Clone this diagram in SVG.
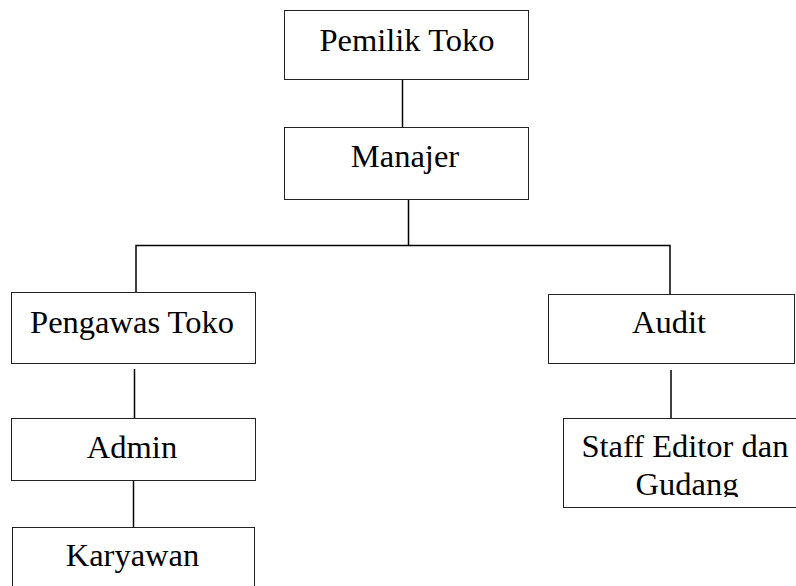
<svg xmlns="http://www.w3.org/2000/svg" width="796" height="586" viewBox="0 0 796 586">
<style>
.box{fill:#fff;stroke:#222;stroke-width:1}
.t{font-family:"Liberation Serif","Times New Roman",serif;font-size:32.5px;fill:#000;text-anchor:middle}
.c{stroke:#000;stroke-width:1.5;fill:none}
</style>
<defs>
<clipPath id="clipStaff"><rect x="563" y="418" width="240" height="79"/></clipPath>
</defs>
<rect width="796" height="586" fill="#fff"/>
<g id="connectors">
<line class="c" x1="402.5" y1="79" x2="402.5" y2="127"/>
<line class="c" x1="408.5" y1="199" x2="408.5" y2="245.5"/>
<polyline class="c" points="136,292 136,245.5 670,245.5 670,294"/>
<line class="c" x1="134.5" y1="369" x2="134.5" y2="418"/>
<line class="c" x1="133.5" y1="480" x2="133.5" y2="527"/>
<line class="c" x1="671" y1="370" x2="671" y2="418"/>
</g>
<g id="pemilik">
<rect class="box" x="284.5" y="10.5" width="244" height="69"/>
<text class="t" x="407" y="51">Pemilik Toko</text>
</g>
<g id="manajer">
<rect class="box" x="284.5" y="127.5" width="244" height="72"/>
<text class="t" x="405" y="167">Manajer</text>
</g>
<g id="pengawas">
<rect class="box" x="11.5" y="292.5" width="244" height="71"/>
<text class="t" x="132" y="333">Pengawas Toko</text>
</g>
<g id="admin">
<rect class="box" x="11.5" y="418.5" width="244" height="62"/>
<text class="t" x="132" y="458">Admin</text>
</g>
<g id="karyawan">
<rect class="box" x="12.5" y="527.5" width="242" height="70"/>
<text class="t" x="132.5" y="566">Karyawan</text>
</g>
<g id="audit">
<rect class="box" x="548.5" y="294.5" width="246" height="69"/>
<text class="t" x="669" y="333">Audit</text>
</g>
<g id="staff">
<rect class="box" x="563.5" y="418.5" width="244" height="89"/>
<g clip-path="url(#clipStaff)">
<text class="t" x="685" y="457">Staff Editor dan</text>
<text class="t" x="687" y="495">Gudang</text>
</g>
</g>
</svg>
